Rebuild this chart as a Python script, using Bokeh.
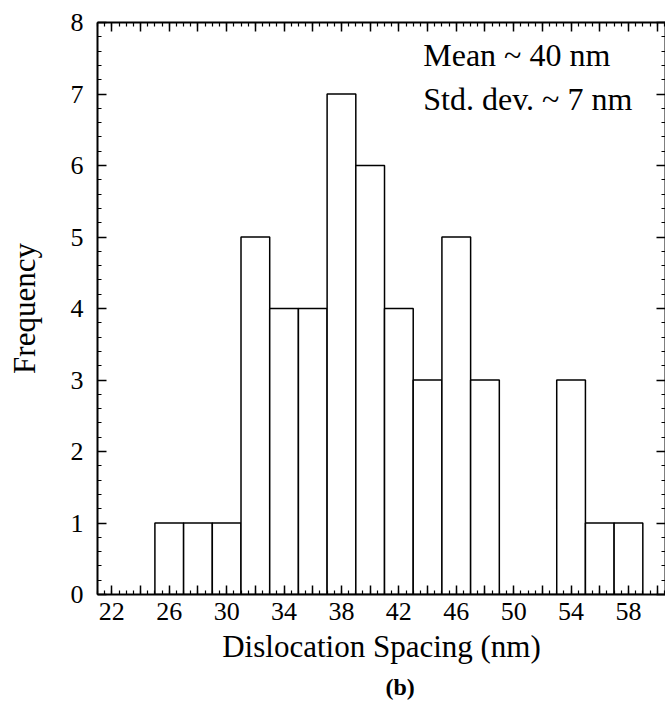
from bokeh.plotting import figure
from bokeh.models import (LinearAxis, SingleIntervalTicker, Label, Title, Range1d)
from bokeh.embed import file_html
from bokeh.resources import INLINE

# Data
bin_left = [25, 27, 29, 31, 33, 35, 37, 39, 41, 43, 45, 47, 49, 51, 53, 55, 57]
bin_width = 2
counts = [1, 1, 1, 5, 4, 4, 7, 6, 4, 3, 5, 3, 0, 0, 3, 1, 1]
x_label_ticks = [22, 26, 30, 34, 38, 42, 46, 50, 54, 58]
annot_lines = ["Mean ~ 40 nm", "Std. dev. ~ 7 nm"]

FONT = "Liberation Serif"

p = figure(frame_width=568, frame_height=572, x_range=Range1d(21, 60.58), y_range=Range1d(0, 8),
           output_backend="svg", toolbar_location=None, min_border_left=97, min_border_top=22,
           min_border_bottom=113, min_border_right=0, x_axis_location=None, y_axis_location=None)
p.background_fill_color = "white"
p.border_fill_color = "white"
p.outline_line_color = None
p.xgrid.visible = False
p.ygrid.visible = False

right_edges = [b + bin_width for b in bin_left]
p.quad(left=bin_left, right=right_edges, bottom=0, top=counts,
       fill_color="white", line_color="black", line_width=1.5)

def style(ax, show_labels):
    ax.axis_line_width = 2
    ax.axis_line_color = "black"
    ax.major_tick_in = 9
    ax.major_tick_out = 0
    ax.minor_tick_in = 4
    ax.minor_tick_out = 0
    ax.major_tick_line_width = 1.5
    ax.minor_tick_line_width = 1.2
    ax.major_tick_line_color = "black"
    ax.minor_tick_line_color = "black"
    if show_labels:
        ax.major_label_text_font = FONT
        ax.major_label_text_font_size = "26px"
        ax.major_label_text_color = "black"
    else:
        ax.major_label_text_font_size = "1px"
        ax.major_label_standoff = 0

x_overrides = {v: "" for v in range(22, 62, 2) if v not in x_label_ticks}
top_overrides = {v: "" for v in range(20, 62, 2)}
right_overrides = {v: "" for v in range(0, 9)}

xb = LinearAxis(ticker=SingleIntervalTicker(interval=2, num_minor_ticks=4))
style(xb, True)
xb.major_label_overrides = x_overrides
xb.major_label_standoff = 8
xb.axis_label = "Dislocation Spacing (nm)"
xb.axis_label_text_font = FONT
xb.axis_label_text_font_size = "31px"
xb.axis_label_text_font_style = "normal"
xb.axis_label_text_color = "black"
xb.axis_label_standoff = 6
p.add_layout(xb, "below")

xt = LinearAxis(ticker=SingleIntervalTicker(interval=2, num_minor_ticks=4))
style(xt, False)
xt.major_label_overrides = top_overrides
p.add_layout(xt, "above")

yl = LinearAxis(ticker=SingleIntervalTicker(interval=1, num_minor_ticks=5))
style(yl, True)
yl.major_label_standoff = 14
yl.axis_label = "Frequency"
yl.axis_label_text_font = FONT
yl.axis_label_text_font_size = "31px"
yl.axis_label_text_font_style = "normal"
yl.axis_label_text_color = "black"
yl.axis_label_standoff = 26
p.add_layout(yl, "left")

yr = LinearAxis(ticker=SingleIntervalTicker(interval=1, num_minor_ticks=5))
style(yr, False)
yr.major_label_overrides = right_overrides
p.add_layout(yr, "right")

for i, line in enumerate(annot_lines):
    p.add_layout(Label(x=43.7, y=7.54 - i * 0.615, text=line, text_font=FONT,
                       text_font_size="32px", text_color="black",
                       text_baseline="alphabetic", text_align="left"))

p.add_layout(Title(text="(b)", text_font=FONT, text_font_size="24px",
                   text_font_style="bold", text_color="black",
                   align="left", offset=288), "below")

open("out.html", "w").write(file_html(p, INLINE))
